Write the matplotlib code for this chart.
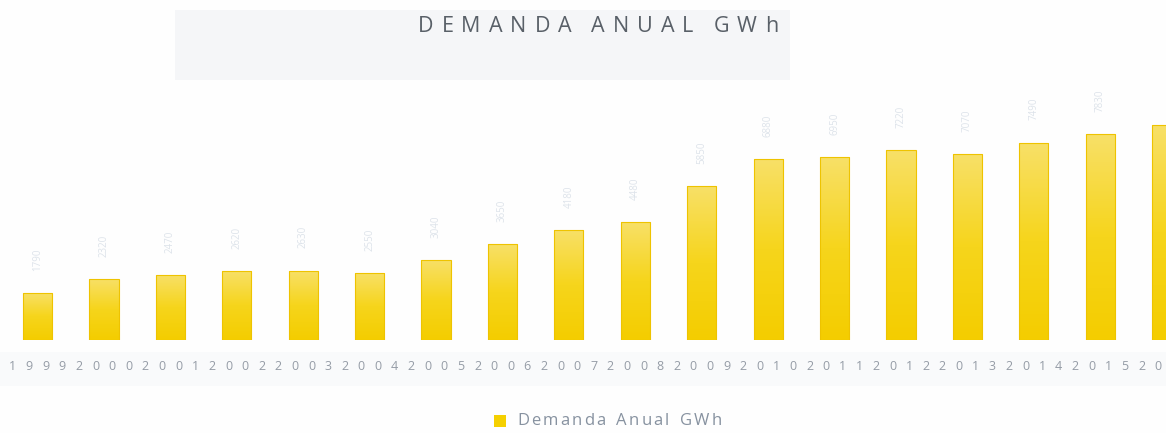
import numpy as np
import matplotlib
matplotlib.use('Agg')
import matplotlib.pyplot as plt
from matplotlib.colors import LinearSegmentedColormap
from matplotlib.patches import Rectangle

years = ['1999', '2000', '2001', '2002', '2003', '2004', '2005', '2006', '2007',
         '2008', '2009', '2010', '2011', '2012', '2013', '2014', '2015', '2016']
demanda = [1790, 2320, 2470, 2620, 2630, 2550, 3040, 3650, 4180,
           4480, 5850, 6880, 6950, 7220, 7070, 7490, 7830, 8170]
titulo = 'DEMANDA ANUAL GWh'
leyenda = 'Demanda Anual GWh'

plt.rcParams['font.family'] = ['Open Sans', 'DejaVu Sans']

W, H = 1166, 433
fig = plt.figure(figsize=(W / 100, H / 100), dpi=100)
fig.patch.set_facecolor('#fefefe')

# faint grey areas left by the scanner
fig.patches.append(Rectangle((175 / W, 1 - 80 / H), 615 / W, 70 / H, transform=fig.transFigure,
                             facecolor='#f5f6f8', edgecolor='none', zorder=-5))
fig.patches.append(Rectangle((0, 1 - 386 / H), 1, 34 / H, transform=fig.transFigure,
                             facecolor='#f9fafb', edgecolor='none', zorder=-5))

ax = fig.add_axes([0, 93 / H, 1, 245 / H])
ax.set_facecolor('none')
for s in ax.spines.values():
    s.set_visible(False)
ax.set_xticks([])
ax.set_yticks([])

x = np.arange(len(years))
bars = ax.bar(x, demanda, width=0.44, color='none', edgecolor='#eec300', linewidth=0.8, zorder=3)

cmap = LinearSegmentedColormap.from_list('amarillo', ['#f4cd00', '#f6d51c', '#f8e068'])
grad = np.linspace(0, 1, 100).reshape(-1, 1)
for b in bars:
    x0, w, h = b.get_x(), b.get_width(), b.get_height()
    im = ax.imshow(grad, extent=[x0, x0 + w, 0, h], origin='lower', aspect='auto',
                   cmap=cmap, zorder=2)
    im.set_clip_path(b)

# very faint rotated value labels
for xi, v in zip(x, demanda):
    ax.annotate(f'{v}', (xi, v), xytext=(0, 16), textcoords='offset points',
                rotation=90, ha='center', va='bottom', fontsize=7, color='#dde3ea')

ax.set_xlim(-0.565, 16.99)
ax.set_ylim(0, 9300)

# year labels with wide digit spacing
for xi, yr in zip(x, years):
    for k, ch in enumerate(yr):
        ax.text(xi + (k - 1.5) * 0.25, -27 / 245, ch, transform=ax.get_xaxis_transform(),
                ha='center', va='center', fontsize=9, color='#959ca6', zorder=5)

renderer = fig.canvas.get_renderer()


def spaced_text(s, xc, yc, total, space=0.5, **kw):
    # lay out characters one by one so the string spans `total` pixels
    widths = []
    for ch in s:
        t = fig.text(0, 0, ch if ch != ' ' else 'n', **kw)
        wd = t.get_window_extent(renderer).width
        widths.append(wd * space if ch == ' ' else wd)
        t.remove()
    gap = (total - sum(widths)) / (len(s) - 1)
    px = xc - total / 2
    for ch, wd in zip(s, widths):
        if ch != ' ':
            fig.text((px + wd / 2) / W, 1 - yc / H, ch, ha='center', va='center', **kw)
        px += wd + gap


spaced_text(titulo, 598, 26, 360, space=0.3, fontsize=15.5, color='#596068')

fig.patches.append(Rectangle((494 / W, 1 - 427 / H), 12 / W, 12 / H, transform=fig.transFigure,
                             facecolor='#f5d000', edgecolor='none'))
spaced_text(leyenda, 619.5, 421, 205, space=0.6, fontsize=12, color='#8792a0')

fig.savefig('out.png', dpi=100, facecolor=fig.get_facecolor())
